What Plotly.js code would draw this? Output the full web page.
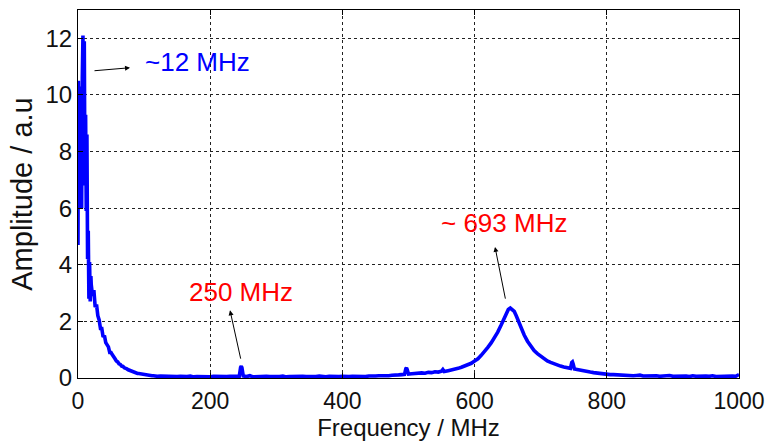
<!DOCTYPE html>
<html>
<head>
<meta charset="utf-8">
<script src="https://cdn.plot.ly/plotly-3.0.1.min.js"></script>
<style>html,body{margin:0;padding:0;background:#fff;}#chart{width:771px;height:441px;}</style>
</head>
<body>
<div id="chart"></div>
<script>
// Frequency (MHz)
var freq = [0,0.5,1.5,2.5,3.5,4.5,5.5,6.5,7.5,8.5,9.5,10.5,11.5,12.5,13.5,14.5,15.5,16.5,17.5,18.5,19.5,
  20,22,24,26,28,30,32,34,36,38,40,42,44,46,48,50,52,54,56,58,60,62,64,66,68,70,72,74,76,78,80,82,84,86,88,90,92,94,96,98,100,102,104,106,108,110,112,114,116,118,120,125,
  130,135,140,145,150,155,160,165,170,175,180,185,190,195,200,205,210,215,220,225,230,235,240,244,246,247,248,250,255,260,265,270,275,280,285,290,295,
  300,305,310,315,320,325,330,335,340,345,350,355,360,365,370,375,380,385,390,395,400,405,410,415,420,425,430,435,440,445,450,455,460,465,470,475,480,485,490,494,496,497,498,
  500,505,510,515,520,525,530,535,540,545,550,552,554,560,565,570,575,580,585,590,595,600,605,610,615,620,625,630,635,640,645,648,651,654,657,660,663,666,670,675,680,685,690,695,
  700,705,710,715,720,725,730,735,740,745,747,748,749,751,755,760,765,770,775,780,785,790,795,800,805,810,815,820,825,830,835,840,845,850,855,860,865,870,875,880,885,890,895,
  900,905,910,915,920,925,930,935,940,945,950,955,960,965,970,975,980,985,990,995,1000];
// Amplitude (a.u.)
var amplitude = [4.7,10.5,7.8,10.3,6.2,9.8,6.0,10.6,12.1,7.4,11.9,6.8,9.3,5.9,8.6,4.2,5.2,2.8,4.1,2.7,3.6,
  3.3,2.9,3.1,2.5,2.6,2.2,2.05,1.75,1.75,1.45,1.5,1.25,1.15,1.1,0.9,0.9,0.82,0.72,0.68,0.6,0.57,0.5,0.48,0.42,0.41,0.36,0.35,0.32,0.29,0.27,0.26,0.22,0.21,0.19,0.18,0.16,0.16,0.15,0.14,0.12,0.12,0.11,0.1,0.1,0.09,0.09,0.08,0.08,0.07,0.07,0.06,0.07,
  0.06,0.05,0.06,0.04,0.05,0.06,0.04,0.05,0.07,0.04,0.05,0.04,0.06,0.05,0.04,0.06,0.05,0.07,0.04,0.05,0.06,0.05,0.04,0.06,0.38,0.42,0.36,0.07,0.05,0.08,0.04,0.05,0.06,0.04,0.06,0.05,0.04,
  0.06,0.05,0.07,0.04,0.05,0.06,0.04,0.05,0.06,0.05,0.04,0.06,0.05,0.07,0.05,0.04,0.06,0.05,0.04,0.05,0.06,0.04,0.05,0.06,0.05,0.04,0.06,0.05,0.07,0.06,0.07,0.08,0.07,0.09,0.08,0.1,0.09,0.11,0.12,0.13,0.33,0.36,0.3,
  0.14,0.15,0.17,0.16,0.18,0.17,0.2,0.19,0.22,0.21,0.24,0.3,0.23,0.26,0.28,0.31,0.34,0.38,0.42,0.46,0.52,0.6,0.68,0.8,0.93,1.08,1.24,1.42,1.62,1.86,2.1,2.28,2.42,2.47,2.4,2.35,2.2,2.02,1.78,1.52,1.3,1.12,0.97,0.86,
  0.76,0.68,0.6,0.55,0.5,0.46,0.42,0.39,0.36,0.34,0.55,0.57,0.5,0.32,0.3,0.27,0.25,0.22,0.21,0.19,0.17,0.16,0.14,0.13,0.12,0.12,0.11,0.1,0.11,0.09,0.1,0.08,0.09,0.1,0.07,0.08,0.09,0.07,0.08,0.06,0.08,0.07,0.09,
  0.06,0.07,0.08,0.06,0.07,0.05,0.08,0.06,0.07,0.05,0.07,0.06,0.08,0.05,0.06,0.07,0.05,0.06,0.07,0.06,0.12];
var xTicks = [0,200,400,600,800,1000];
var yTicks = [0,2,4,6,8,10,12];
var labels = ["~12 MHz","250 MHz","~ 693 MHz"];

var font = "Liberation Sans, Arial, sans-serif";
var trace = {x: freq, y: amplitude, type: "scatter", mode: "lines",
  line: {color: "#0000FF", width: 3.6}, hoverinfo: "skip"};

var axCommon = {showline: true, linecolor: "#000", linewidth: 1, mirror: "ticks",
  ticks: "inside", ticklen: 5, tickcolor: "#000", showgrid: true, gridcolor: "#222",
  gridwidth: 1, griddash: "3px,3px", zeroline: false, tickfont: {family: font, size: 24, color: "#111"}};

var layout = {
  width: 771, height: 441, paper_bgcolor: "#fff", plot_bgcolor: "#fff",
  margin: {l: 78, r: 32, t: 10, b: 63}, showlegend: false,
  xaxis: Object.assign({}, axCommon, {range: [0, 1000], tickvals: xTicks, ticktext: xTicks.map(String),
    tickfont: {family: font, size: 23, color: "#111"}, ticklabelstandoff: 2,
    title: {text: "Frequency / MHz", font: {family: font, size: 24, color: "#111"}, standoff: 5}}),
  yaxis: Object.assign({}, axCommon, {range: [0, 13], tickvals: yTicks, ticktext: yTicks.map(String),
    title: {text: "Amplitude / a.u", font: {family: font, size: 29, color: "#111"}, standoff: 4}}),
  annotations: [
    {x: 181.5, y: 11.16, xref: "x", yref: "y", text: labels[0], showarrow: false, font: {family: font, size: 26, color: "#0000FF"}},
    {x: 78.7, y: 10.96, ax: 22.7, ay: 10.85, axref: "x", ayref: "y", xref: "x", yref: "y", text: "", showarrow: true, arrowhead: 2, arrowsize: 1, arrowwidth: 1, arrowcolor: "#000"},
    {x: 246.6, y: 3.03, xref: "x", yref: "y", text: labels[1], showarrow: false, font: {family: font, size: 26, color: "#FF0000"}},
    {x: 230, y: 2.39, ax: 246.6, ay: 0.63, axref: "x", ayref: "y", xref: "x", yref: "y", text: "", showarrow: true, arrowhead: 2, arrowsize: 1, arrowwidth: 1, arrowcolor: "#000"},
    {x: 644.5, y: 5.47, xref: "x", yref: "y", text: labels[2], showarrow: false, font: {family: font, size: 26, color: "#FF0000"}},
    {x: 630.9, y: 4.63, ax: 647, ay: 2.75, axref: "x", ayref: "y", xref: "x", yref: "y", text: "", showarrow: true, arrowhead: 2, arrowsize: 1, arrowwidth: 1, arrowcolor: "#000"}
  ]
};
Plotly.newPlot("chart", [trace], layout, {staticPlot: true, displayModeBar: false});
</script>
</body>
</html>
